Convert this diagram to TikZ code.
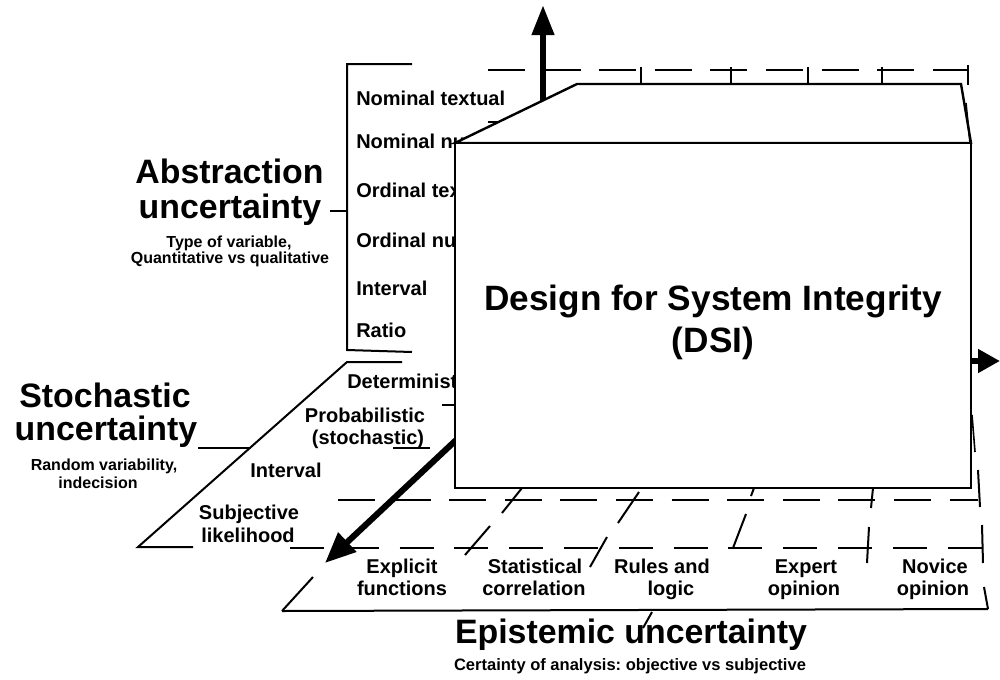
\documentclass[tikz,border=0pt]{standalone}
\usepackage{fontspec}
\setmainfont{Liberation Sans}
\usetikzlibrary{arrows.meta}
\frenchspacing
\begin{document}
\begin{tikzpicture}[x=0.75pt,y=-0.75pt,
  edge/.style={line width=1.5pt},
  dashA/.style={line width=1.6pt, dash pattern=on 27.75pt off 13.95pt},
  dashB/.style={line width=1.6pt, dash pattern=on 25.5pt off 15.6pt},
  axis/.style={line width=4.6pt},
  big/.style={font=\fontsize{25.4}{30}\selectfont\bfseries, inner sep=0pt, anchor=base},
  dsi/.style={font=\fontsize{26.4}{32}\selectfont\bfseries, inner sep=0pt, anchor=base},
  small/.style={font=\fontsize{12}{14}\selectfont\bfseries, inner sep=0pt, anchor=base},
  lvl/.style={font=\fontsize{15}{18}\selectfont\bfseries, inner sep=0pt, anchor=base},
  lvlL/.style={lvl, anchor=base west},
  boxface/.style={draw, fill=white, line width=1.8pt, line join=miter},
]
\fill[white] (0,0) rectangle (1000,679);
\useasboundingbox (0,0) rectangle (1000,679);

% ---------- abstraction axis: bracket, levels and label ----------
\draw[edge] (412,64) -- (347,64) -- (347,350) -- (412,352);
\coordinate (absTick) at (330,211);
\coordinate (absBar) at (347,211);
\draw[edge] (absTick) -- (absBar);
\node[big] (abs1) at (229.5,183) {Abstraction};
\node[big] (abs2) at (230,218) {uncertainty};
\node[small] (abs3) at (229,247) {Type of variable,};
\node[small] (abs4) at (230,263) {Quantitative vs qualitative};

\node[lvlL] (a1) at (356,105) {Nominal textual};
\node[lvlL] (a2) at (356,148) {Nominal numerical};
\node[lvlL] (a3) at (356,197) {Ordinal textual};
\node[lvlL] (a4) at (356,247) {Ordinal numerical};
\node[lvlL] (a5) at (356,295) {Interval};
\node[lvlL] (a6) at (356,337) {Ratio};
\draw[edge] (488,122) -- (500,122);

% ---------- stochastic plane ----------
\draw[edge] (402,362) -- (347,362) -- (138,547) -- (193,547);
\coordinate (stoTick) at (198,448);
\coordinate (stoEdge) at (250,448);
\draw[edge] (stoTick) -- (stoEdge);
\draw[edge] (442,405) -- (455,405);
\draw[edge] (393,448) -- (430,448);
\node[big] (sto1) at (105,407) {Stochastic};
\node[big] (sto2) at (106,440) {uncertainty};
\node[small] (sto3) at (104,470) {Random variability,};
\node[small] (sto4) at (98,488) {indecision};

\node[lvlL] (s1) at (347,388) {Deterministic};
\node[lvl] (s2a) at (365,422) {Probabilistic};
\node[lvl] (s2b) at (368,444) {(stochastic)};
\node[lvl] (s3) at (286,477) {Interval};
\node[lvl] (s4a) at (249,519) {Subjective};
\node[lvl] (s4b) at (248,542) {likelihood};

% ---------- back grid line with ticks ----------
\draw[dashA] (488,70) -- (968,70);
\draw[edge] (968,65) -- (968,85);
\foreach \tx in {641,731,808,882} \draw[edge] (\tx,67) -- (\tx,84);

% ---------- epistemic floor ----------
\draw[dashA] (338,500) -- (978,500);
\draw[dashB] (290,548) -- (982,548);
\draw[edge] (282,611) -- (988,609);
\draw[edge] (282,611) -- (313,577);
% column dividers
\draw[edge] (522,488) -- (502,513);
\draw[edge] (490,526) -- (465,555);
\draw[edge] (639,492) -- (618,523);
\draw[edge] (607,537) -- (590,567);
\draw[edge] (754,488) -- (751,496);
\draw[edge] (746,514) -- (733,548);
\draw[edge] (873,488) -- (871,508);
\draw[edge] (869,527) -- (867,563);
\draw[edge] (978,470) -- (980,507);
\draw[edge] (982,525) -- (983,563);
\draw[edge] (984,587) -- (988,609);
\draw[edge] (652,612) -- (643,628);

\node[lvl] (e1a) at (402,573) {Explicit};
\node[lvl] (e1b) at (402,595) {functions};
\node[lvl] (e2a) at (535,573) {Statistical};
\node[lvl] (e2b) at (534,595) {correlation};
\node[lvl] (e3a) at (662,573) {Rules and};
\node[lvl] (e3b) at (671,595) {logic};
\node[lvl] (e4a) at (806,573) {Expert};
\node[lvl] (e4b) at (804,595) {opinion};
\node[lvl] (e5a) at (935,573) {Novice};
\node[lvl] (e5b) at (933,595) {opinion};

\node[big] (epi1) at (631,643) {Epistemic uncertainty};
\node[font=\fontsize{12.4}{15}\selectfont\bfseries, inner sep=0pt, anchor=base] (epi2) at (630,670) {Certainty of analysis: objective vs subjective};

% ---------- axes ----------
\coordinate (upFoot) at (543,130);
\coordinate (upTip) at (543,5);
\coordinate (rtFoot) at (960,361);
\coordinate (rtTip) at (1000,361);
\coordinate (dgFoot) at (470,427);
\coordinate (dgTip) at (325,563);
\draw[axis, -{Triangle[length=22.5pt,width=16pt]}] (upFoot) -- (upTip);
\draw[axis, -{Triangle[length=16.5pt,width=17pt]}] (rtFoot) -- (rtTip);
\draw[axis, -{Triangle[length=23pt,width=19pt]}] (dgFoot) -- (dgTip);

% ---------- DSI block ----------
\coordinate (fTL) at (455,143);
\coordinate (fTR) at (971,143);
\coordinate (fBR) at (971,488);
\coordinate (bTL) at (577,84);
\coordinate (bTR) at (961,84);
\draw[boxface] (fTL) -- (bTL) -- (bTR) -- (fTR) -- cycle;
\draw[boxface] (fTL) rectangle (fBR);
\node[dsi] (dsi1) at (713,310) {Design for System Integrity};
\node[dsi] (dsi2) at (713,352) {(DSI)};

\draw[line width=1.2pt] (966,103) -- (970,143);
\draw[line width=1.2pt] (972,415) -- (975,452);
\end{tikzpicture}
\end{document}
